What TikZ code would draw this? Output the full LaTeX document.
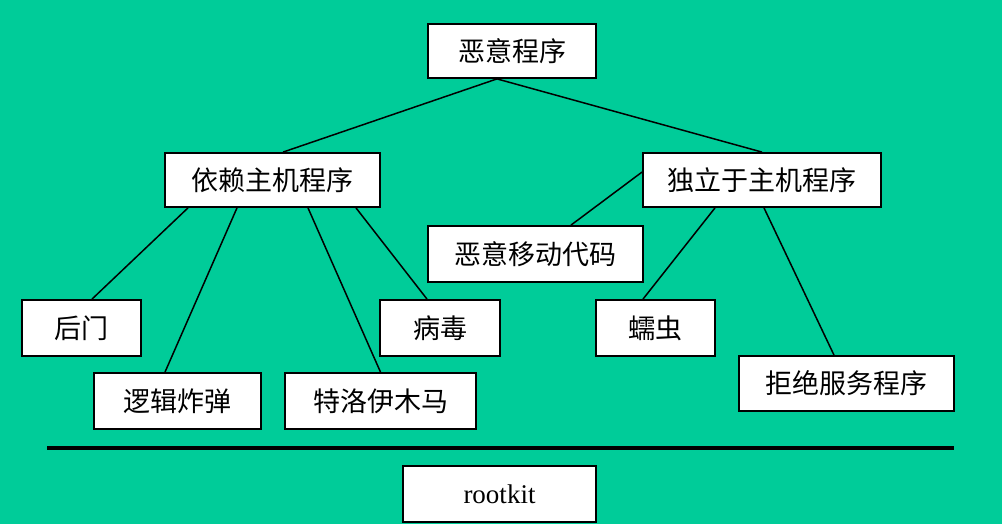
\documentclass[tikz,border=0pt]{standalone}
\usepackage{fontspec}
\setmainfont{Liberation Serif}
\newfontfamily\cjk{Noto Sans CJK SC}
\usepackage{tikz}
\usetikzlibrary{positioning}
\definecolor{bgteal}{HTML}{00CC99}
\tikzset{
  box/.style={rectangle, draw=black, fill=white, line width=1.8pt,
              inner sep=0pt, minimum height=#1},
  box/.default=54pt,
  link/.style={draw=black, line width=1.5pt},
  rule/.style={draw=black, line width=3.5pt},
  zh/.style={font=\cjk\fontsize{27}{30}\selectfont},
}

\begin{document}
\begin{tikzpicture}[x=1pt,y=-1pt]
  % background
  \fill[bgteal] (0,0) rectangle (1002,524);
  \useasboundingbox (0,0) rectangle (1002,524);

  % nodes
  \node[box, zh, minimum width=168pt] (root) at (512,51) {恶意程序};
  \node[box, zh, minimum width=215pt] (dep) at (272.5,180) {依赖主机程序};
  \node[box, zh, minimum width=238pt] (ind) at (762,180) {独立于主机程序};
  \node[box=56pt, zh, minimum width=215pt] (mobile) at (535.5,254) {恶意移动代码};
  \node[box=56pt, zh, minimum width=119pt] (backdoor) at (81.5,328) {后门};
  \node[box=56pt, zh, minimum width=167pt] (logic) at (177.5,401) {逻辑炸弹};
  \node[box=56pt, zh, minimum width=191pt] (trojan) at (380.5,401) {特洛伊木马};
  \node[box=56pt, zh, minimum width=120pt] (virus) at (440,328) {病毒};
  \node[box=56pt, zh, minimum width=119pt] (worm) at (655.5,328) {蠕虫};
  \node[box=55pt, zh, minimum width=215pt] (dos) at (846.5,383.5) {拒绝服务程序};
  \node[box=56pt, font=\fontsize{27}{30}\selectfont, minimum width=193pt] (rootkit) at (499.5,494) {rootkit};

  % separator
  \coordinate (ruleL) at (47,448);
  \coordinate (ruleR) at (954,448);
  \draw[rule] (ruleL) -- (ruleR);

  % links
  \draw[link] ([xshift=-15pt]root.south) -- ([xshift=10.5pt]dep.north);
  \draw[link] ([xshift=-15pt]root.south) -- (ind.north);
  \draw[link] ([xshift=-84.5pt]dep.south) -- ([xshift=10.5pt]backdoor.north);
  \draw[link] ([xshift=-35.5pt]dep.south) -- ([xshift=-12.5pt]logic.north);
  \draw[link] ([xshift=35.5pt]dep.south) -- (trojan.north);
  \draw[link] ([xshift=83.5pt]dep.south) -- ([xshift=-13pt]virus.north);
  \draw[link] ([yshift=8pt]ind.west) -- ([xshift=35.5pt]mobile.north);
  \draw[link] ([xshift=-47pt]ind.south) -- ([xshift=-12.5pt]worm.north);
  \draw[link] ([xshift=2pt]ind.south) -- ([xshift=-12.5pt]dos.north);
\end{tikzpicture}
\end{document}
